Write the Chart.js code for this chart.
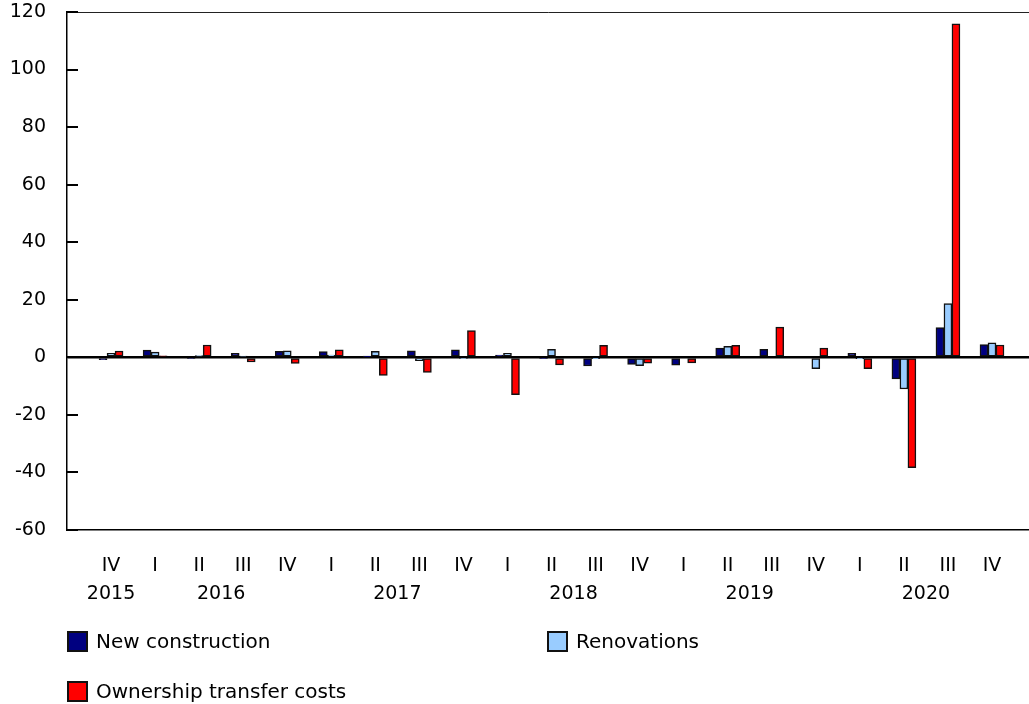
<!DOCTYPE html>
<html>
<head>
<meta charset="utf-8">
<script src="https://cdn.jsdelivr.net/npm/chart.js@4.4.0/dist/chart.umd.min.js"></script>
<style>
    body { margin: 0; background: #fff; }
    #wrap { position: relative; width: 1029px; height: 704px; }
    #chart { position: absolute; left: 0; top: 0; }
    #legend {
        position: absolute; left: 67px; top: 631px;
        display: grid; grid-template-columns: 480px 480px; grid-auto-rows: 50px;
        font-family: 'DejaVu Sans', Verdana, sans-serif; font-size: 20px; color: #000;
    }
    .item { display: flex; align-items: flex-start; height: 21px; line-height: 21px; }
    .box { width: 21px; height: 21px; box-sizing: border-box; border: 2px solid #111; margin-right: 8px; }
</style>
</head>
<body>
<div id="wrap">
    <canvas id="chart" width="1029" height="704"></canvas>
    <div id="legend"></div>
</div>
<script>
// quarters from IV 2015 to IV 2020
var quarters = ['IV', 'I', 'II', 'III', 'IV', 'I', 'II', 'III', 'IV', 'I', 'II', 'III', 'IV', 'I', 'II', 'III', 'IV', 'I', 'II', 'III', 'IV'];
var years = ['2015', '2016', '2017', '2018', '2019', '2020'];
var yearPositions = [0, 2.5, 6.5, 10.5, 14.5, 18.5];

var newConstruction = [-0.8, 2.5, -0.4, 1.4, 2.1, 2.0, 0.1, 2.3, 2.6, 0.8, -0.5, -3.0, -2.5, -2.7, 3.2, 2.8, 0, 1.4, -7.5, 10.3, 4.4];
var renovations = [1.4, 1.8, 0.6, 0.4, 2.3, 0.8, 2.1, -1.2, -0.5, 1.4, 2.8, -0.3, -2.9, 0, 3.8, 0, -3.9, -0.3, -11.0, 18.7, 5.0];
var ownershipTransfer = [2.2, 0.5, 4.3, -1.6, -2.1, 2.6, -6.3, -5.2, 9.3, -13.0, -2.6, 4.2, -2.0, -1.9, 4.2, 10.5, 3.2, -3.9, -38.3, 115.9, 4.3];

var seriesNames = ['New construction', 'Renovations', 'Ownership transfer costs'];
var seriesColors = ['#000080', '#99ccff', '#ff0000'];

Chart.defaults.font.family = "'DejaVu Sans', Verdana, sans-serif";
Chart.defaults.font.size = 19;
Chart.defaults.color = '#000';

// short tick marks on the inside of the y axis
var innerTicks = {
    id: 'innerTicks',
    afterDraw: function(chart) {
        var y = chart.scales.y;
        var ctx = chart.ctx;
        var left = chart.chartArea.left;
        ctx.save();
        ctx.strokeStyle = '#000';
        ctx.lineWidth = 2;
        y.ticks.forEach(function(t) {
            var py = Math.round(y.getPixelForValue(t.value));
            ctx.beginPath();
            ctx.moveTo(left, py);
            ctx.lineTo(left + 11, py);
            ctx.stroke();
        });
        ctx.restore();
    }
};

function makeSet(i, values) {
    return {
        label: seriesNames[i],
        data: values,
        backgroundColor: seriesColors[i],
        borderColor: '#111',
        borderWidth: 1.5,
        borderSkipped: false,
        barThickness: 8
    };
}

var ctx = document.getElementById('chart').getContext('2d');
var chart = new Chart(ctx, {
    type: 'bar',
    data: {
        labels: quarters.map(function(q, i) { return i; }),
        datasets: [
            makeSet(0, newConstruction),
            makeSet(1, renovations),
            makeSet(2, ownershipTransfer)
        ]
    },
    options: {
        responsive: false,
        animation: false,
        devicePixelRatio: 1,
        layout: { padding: { top: 12, right: 0, bottom: 94, left: 0 } },
        plugins: {
            legend: { display: false },
            tooltip: { enabled: false }
        },
        scales: {
            x: {
                type: 'linear',
                position: 'bottom',
                min: -1,
                max: 20.84,
                offset: false,
                afterBuildTicks: function(scale) {
                    scale.ticks = quarters.map(function(q, i) { return { value: i }; });
                },
                afterFit: function(scale) { scale.height = 50; },
                ticks: {
                    autoSkip: false,
                    maxRotation: 0,
                    padding: 25,
                    callback: function(value) { return quarters[value]; }
                },
                grid: { display: false, drawTicks: false },
                border: { display: true, color: '#000', width: 1.5 }
            },
            years: {
                type: 'linear',
                position: 'bottom',
                min: -1,
                max: 20.84,
                offset: false,
                afterBuildTicks: function(scale) {
                    scale.ticks = yearPositions.map(function(v) { return { value: v }; });
                },
                afterFit: function(scale) { scale.height = 30; },
                ticks: {
                    autoSkip: false,
                    maxRotation: 0,
                    padding: 3,
                    callback: function(value, index) { return years[index]; }
                },
                grid: { display: false, drawTicks: false },
                border: { display: false }
            },
            y: {
                min: -60,
                max: 120,
                z: 1,
                afterFit: function(scale) { scale.width = 67; },
                ticks: { stepSize: 20, padding: 0 },
                grid: {
                    drawTicks: true,
                    tickLength: 21,
                    tickColor: 'rgba(0,0,0,0)',
                    color: function(c) {
                        if (c.tick.value === 0) return '#000';
                        if (c.tick.value === 120) return '#222';
                        return 'rgba(0,0,0,0)';
                    },
                    lineWidth: function(c) { return c.tick.value === 0 ? 2.5 : 1; }
                },
                border: { color: '#000', width: 1.5 }
            }
        }
    },
    plugins: [innerTicks]
});

// legend laid out in two columns like the original
var legend = document.getElementById('legend');
chart.data.datasets.forEach(function(ds) {
    var item = document.createElement('div');
    item.className = 'item';
    var box = document.createElement('span');
    box.className = 'box';
    box.style.background = ds.backgroundColor;
    var text = document.createElement('span');
    text.textContent = ds.label;
    item.appendChild(box);
    item.appendChild(text);
    legend.appendChild(item);
});
</script>
</body>
</html>
